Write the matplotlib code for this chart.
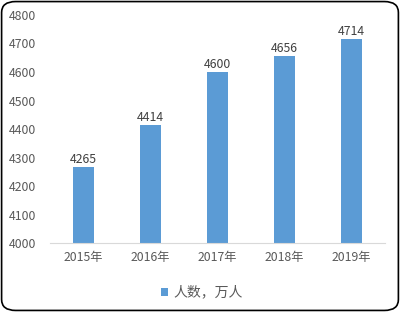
import matplotlib
matplotlib.use("Agg")
import matplotlib.pyplot as plt
from matplotlib.patches import FancyBboxPatch

plt.rcParams['font.family'] = ['Noto Sans CJK SC', 'DejaVu Sans']

categories = ["2015年", "2016年", "2017年", "2018年", "2019年"]
values = [4265, 4414, 4600, 4656, 4714]
series_name = "人数，万人"
yticks = [4000, 4100, 4200, 4300, 4400, 4500, 4600, 4700, 4800]

bar_color = "#5B9BD5"
text_color = "#595959"

fig = plt.figure(figsize=(4.0, 3.12), dpi=100)
ax = fig.add_axes([0.125, 0.221, 0.8375, 0.731])

x = range(len(categories))
bars = ax.bar(x, values, width=0.31, color=bar_color, label=series_name, zorder=2)
for xi, v in zip(x, values):
    ax.text(xi, v + 5, str(v), ha="center", va="bottom", fontsize=8.8, color="#404040")

ax.set_ylim(4000, 4800)
ax.set_xlim(-0.5, len(categories) - 0.5)
ax.set_yticks(yticks)
ax.set_xticks(list(x))
ax.set_xticklabels(categories)
ax.tick_params(axis="both", length=0, labelsize=8.8, colors=text_color)
ax.tick_params(axis="y", pad=10)
ax.tick_params(axis="x", pad=6)
for s in ["top", "right", "left"]:
    ax.spines[s].set_visible(False)
ax.spines["bottom"].set_color("#D9D9D9")

leg = fig.legend(handles=[bars], labels=[series_name], loc="center",
                 bbox_to_anchor=(0.505, 0.062), frameon=False, fontsize=10,
                 handlelength=0.5, handleheight=0.5, handletextpad=0.4)
for t in leg.get_texts():
    t.set_color(text_color)

border = FancyBboxPatch((0.004, 0.005), 0.992, 0.99, boxstyle="round,pad=0,rounding_size=0.035",
                        transform=fig.transFigure, fill=False, edgecolor="black", linewidth=1.2)
fig.patches.append(border)

fig.savefig("out.png", dpi=100)
